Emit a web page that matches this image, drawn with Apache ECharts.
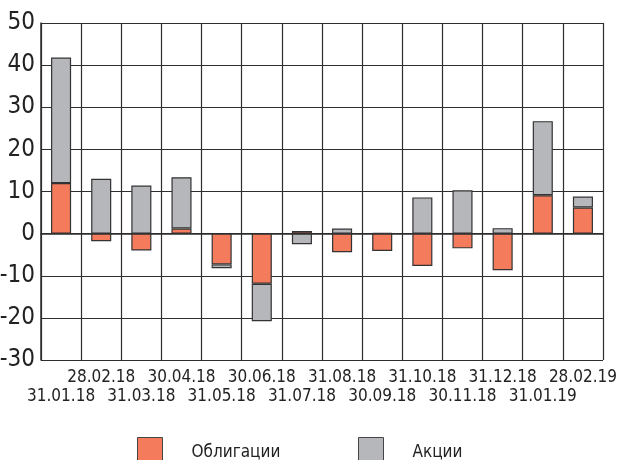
<!DOCTYPE html>
<html>
<head>
<meta charset="utf-8">
<script src="https://cdn.jsdelivr.net/npm/echarts@6/dist/echarts.min.js"></script>
<style>
  html, body { margin: 0; padding: 0; background: #fff; }
  #chart { width: 617px; height: 460px; }
</style>
</head>
<body>
<div id="chart"></div>
<script>
// Month-end dates
const categories = ['31.01.18', '28.02.18', '31.03.18', '30.04.18', '31.05.18', '30.06.18', '31.07.18',
                    '31.08.18', '30.09.18', '31.10.18', '30.11.18', '31.12.18', '31.01.19', '28.02.19'];
// Flows by asset class
const bonds  = [12.0, -1.8, -4.0, 1.2, -7.3, -11.9, 0.6, -4.4, -4.1, -7.7, -3.5, -8.7, 9.1, 6.2];
const stocks = [29.8, 13.0, 11.4, 12.2, -0.9, -8.9, -2.5, 1.2, 0.1, 8.6, 10.3, 1.3, 17.6, 2.6];
const seriesNames = ['Облигации', 'Акции'];
const yTicks = { min: -30, max: 50, step: 10 };

const FONT = '"Liberation Sans Narrow", "DejaVu Sans Condensed", "Roboto", sans-serif';
const ORANGE = '#F47B5B';
const GREY = '#B6B7BB';
const LINE = '#2e2e2e';

const chart = echarts.init(document.getElementById('chart'), null, { renderer: 'canvas' });

const barStyle = (color) => ({
  color: color,
  borderColor: '#333',
  borderWidth: 1.2
});

const legendItem = (name, left) => ({
  data: [name],
  left: left, top: 437,
  padding: 0,
  itemWidth: 25, itemHeight: 30,
  icon: 'rect',
  textStyle: { fontFamily: FONT, fontSize: 17, color: '#222', padding: [0, 0, 0, 24] },
  itemStyle: { borderColor: '#444', borderWidth: 1 }
});

chart.setOption({
  animation: false,
  backgroundColor: '#fff',
  grid: { left: 41, right: 14, top: 23, bottom: 100, containLabel: false, outerBoundsMode: 'none' },
  legend: [legendItem(seriesNames[0], 137), legendItem(seriesNames[1], 358)],
  xAxis: {
    type: 'category',
    data: categories,
    boundaryGap: true,
    axisLine: { show: true, lineStyle: { color: LINE, width: 1.5 } },
    axisTick: { show: false },
    splitLine: { show: true, interval: 0, lineStyle: { color: LINE, width: 1.2 } },
    axisLabel: {
      interval: 0,
      margin: 8,
      fontFamily: FONT,
      fontSize: 17,
      lineHeight: 19,
      color: '#222',
      formatter: (v, i) => (i % 2 === 0 ? '\n' + v : v)
    }
  },
  yAxis: {
    type: 'value',
    min: yTicks.min, max: yTicks.max, interval: yTicks.step,
    axisLine: { show: true, lineStyle: { color: LINE, width: 1.5 } },
    axisTick: { show: false },
    splitLine: { show: true, lineStyle: { color: LINE, width: 1.2 } },
    axisLabel: { margin: 6, fontFamily: FONT, fontSize: 24, color: '#222' }
  },
  series: [
    {
      name: seriesNames[0], type: 'bar', stack: 'flows', data: bonds,
      barWidth: '50%', itemStyle: barStyle(ORANGE)
    },
    {
      name: seriesNames[1], type: 'bar', stack: 'flows', data: stocks,
      barWidth: '50%', itemStyle: barStyle(GREY)
    }
  ]
});
</script>
</body>
</html>
